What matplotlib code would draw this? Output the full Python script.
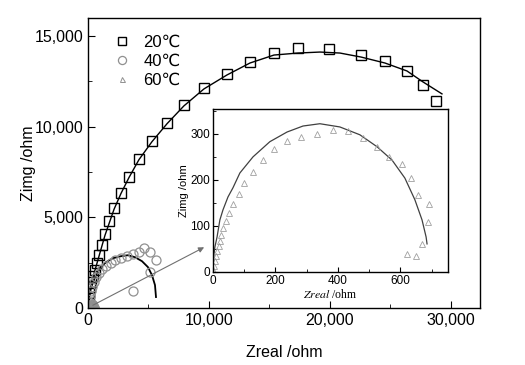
import matplotlib
matplotlib.use("Agg")
import matplotlib.pyplot as plt
from matplotlib.ticker import MultipleLocator, FuncFormatter
import numpy as np

plt.rcParams['font.family'] = ['Liberation Sans', 'DejaVu Sans']
plt.rcParams['mathtext.fontset'] = 'stix'

# 20 C measured points (ohm)
x20 = [30, 60, 100, 165, 248, 413, 579, 744, 909, 1157, 1405, 1736, 2149, 2727,
       3388, 4215, 5289, 6529, 7934, 9587, 11488, 13388, 15372, 17355, 19917,
       22562, 24545, 26364, 27686, 28760]
y20 = [250, 550, 850, 1153, 1427, 1757, 2086, 2470, 2909, 3458, 4062, 4776, 5490, 6368,
       7247, 8235, 9223, 10211, 11199, 12132, 12901, 13560, 14055, 14330, 14275,
       13945, 13615, 13066, 12297, 11419]
# 20 C fitted curve
fx20 = [0, 83, 165, 331, 579, 909, 1405, 2149, 2727, 3388, 4215, 5289, 6529, 7934,
        9587, 11488, 13388, 15372, 17355, 19174, 20826, 22562, 24545, 26364, 27686, 29256]
fy20 = [0, 439, 988, 1538, 2086, 2857, 4011, 5440, 6319, 7198, 8187, 9176, 10165, 11154,
        12088, 12857, 13516, 13956, 14066, 14121, 14066, 13846, 13516, 13077, 12473, 11813]

# 40 C measured points
x40 = [83, 165, 248, 331, 496, 661, 909, 1157, 1488, 1901, 2231, 2727, 3223, 3719,
       4215, 4628, 5124, 5620, 5124, 3719]
y40 = [329, 659, 934, 1154, 1429, 1703, 1923, 2143, 2308, 2473, 2637, 2747, 2857, 2967,
       3077, 3297, 3077, 2637, 1978, 934]
# 40 C fitted curve
fx40 = [0, 83, 248, 579, 992, 1488, 2066, 2727, 3306, 3884, 4463, 4959, 5289, 5537, 5620]
fy40 = [0, 549, 1099, 1703, 2198, 2527, 2747, 2857, 2912, 2802, 2582, 2253, 1813, 1264, 604]

# 60 C measured points
x60 = [1, 3, 6, 10, 13, 19, 22, 26, 32, 42, 51, 64, 83, 100, 128, 160, 195, 237, 282,
       333, 384, 432, 480, 525, 563, 605, 634, 656, 691, 688, 669, 650, 621]
y60 = [4, 13, 24, 35, 46, 57, 67, 80, 96, 111, 128, 148, 170, 193, 217, 243, 267, 285, 293,
       300, 309, 307, 291, 272, 250, 235, 204, 167, 148, 109, 61, 35, 39]
# 60 C fitted curve
fx60 = [0, 0, 6, 13, 22, 32, 48, 64, 86, 128, 182, 237, 288, 342, 406, 470, 525, 573,
        614, 646, 669, 682, 685]
fy60 = [0, 20, 54, 76, 113, 135, 163, 183, 215, 250, 283, 304, 317, 322, 315, 298, 272,
        243, 204, 157, 113, 76, 61]

labels = ['20\u2103', '40\u2103', '60\u2103']

fig = plt.figure(figsize=(5.25, 3.65), dpi=100)
ax = fig.add_axes([0.1676, 0.1562, 0.7467, 0.7945])

ax.plot(fx20, fy20, color='black', lw=1.0)
ax.plot(fx40, fy40, color='black', lw=1.3)
ax.plot(fx60, fy60, color='#707070', lw=0.8)
ax.plot(x20, y20, ls='none', marker='s', ms=6.5, mfc='none', mec='black', mew=1.0,
        label=labels[0])
ax.plot(x40, y40, ls='none', marker='o', ms=6.5, mfc='none', mec='#909090', mew=0.9,
        label=labels[1])
ax.plot(x60, y60, ls='none', marker='^', ms=4, mfc='none', mec='#909090', mew=0.7,
        label=labels[2])

ax.set_xlim(0, 32400)
ax.set_ylim(0, 16000)
ax.xaxis.set_major_locator(MultipleLocator(10000))
ax.xaxis.set_minor_locator(MultipleLocator(5000))
ax.yaxis.set_major_locator(MultipleLocator(5000))
ax.yaxis.set_minor_locator(MultipleLocator(2500))
comma = FuncFormatter(lambda v, p: '{:,.0f}'.format(v))
ax.xaxis.set_major_formatter(comma)
ax.yaxis.set_major_formatter(comma)
ax.tick_params(which='both', direction='in', top=False, right=False, labelsize=11.5)
ax.tick_params(which='major', length=5)
ax.tick_params(which='minor', length=3)
ax.set_xlabel('Zreal /ohm', fontsize=11.5, labelpad=12)
ax.set_ylabel('Zimg /ohm', fontsize=11.5, labelpad=-1)
for s in ax.spines.values():
    s.set_linewidth(1.0)

leg = ax.legend(loc='upper left', frameon=False, fontsize=12, handletextpad=0.8,
                handlelength=1.0, borderaxespad=0.6, labelspacing=0.25,
                bbox_to_anchor=(0.022, 1.0), markerscale=0.9)

# arrow pointing at the inset
ax.annotate('', xy=(9600, 3350), xytext=(400, 150),
            arrowprops=dict(arrowstyle='-|>', color='#707070', lw=0.8,
                            mutation_scale=8, shrinkA=0, shrinkB=0))

ins = fig.add_axes([0.4057, 0.2548, 0.4476, 0.4466])
ins.plot(fx60, fy60, color='#404040', lw=0.9)
ins.plot(x60, y60, ls='none', marker='^', ms=4, mfc='none', mec='#a0a0a0', mew=0.6)
ins.set_xlim(0, 752)
ins.set_ylim(0, 354)
ins.xaxis.set_major_locator(MultipleLocator(200))
ins.xaxis.set_minor_locator(MultipleLocator(100))
ins.yaxis.set_major_locator(MultipleLocator(100))
ins.yaxis.set_minor_locator(MultipleLocator(50))
ins.tick_params(which='both', direction='in', top=False, right=False, labelsize=8.5, pad=2)
ins.tick_params(which='major', length=3.5)
ins.tick_params(which='minor', length=2)
ins.set_xlabel(r'$\mathit{Zreal}$ /ohm', fontsize=8.5, family='Liberation Serif', labelpad=1)
ins.set_ylabel('Zimg /ohm', fontsize=8, labelpad=1)
for s in ins.spines.values():
    s.set_linewidth(1.0)

fig.savefig('out.png', dpi=100)
